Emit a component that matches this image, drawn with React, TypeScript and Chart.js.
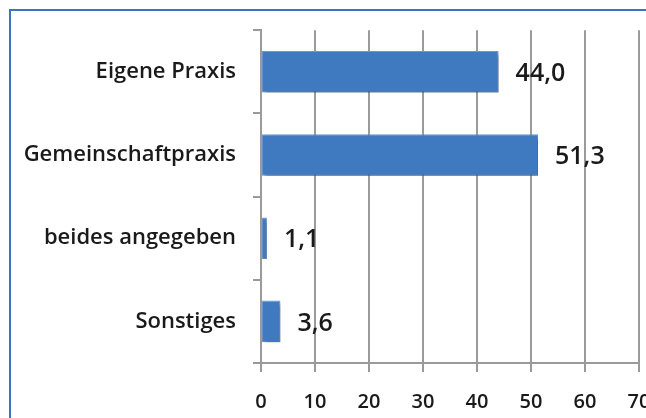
import React, { useEffect, useRef } from 'react';
import { Chart, registerables } from 'chart.js';

Chart.register(...registerables);

const categories = ['Eigene Praxis', 'Gemeinschaftpraxis', 'beides angegeben', 'Sonstiges'];
const values = [44.0, 51.3, 1.1, 3.6];
const xMin = 0;
const xMax = 70;
const xStep = 10;

const FONT = '"Open Sans", Lato, sans-serif';

const shadowPlugin = {
  id: 'barShadow',
  beforeDatasetDraw(chart: any) {
    const ctx = chart.ctx;
    ctx.save();
    ctx.shadowColor = 'rgba(0,0,0,0.4)';
    ctx.shadowOffsetX = 2;
    ctx.shadowOffsetY = 3;
    ctx.shadowBlur = 4;
  },
  afterDatasetDraw(chart: any) {
    chart.ctx.restore();
  },
};

const valueLabelPlugin = {
  id: 'valueLabels',
  afterDatasetsDraw(chart: any) {
    const ctx = chart.ctx;
    const meta = chart.getDatasetMeta(0);
    ctx.save();
    ctx.font = `600 25px ${FONT}`;
    ctx.fillStyle = '#1a1a1a';
    ctx.textBaseline = 'middle';
    ctx.textAlign = 'left';
    meta.data.forEach((bar: any, i: number) => {
      const v = values[i];
      ctx.fillText(v.toFixed(1).replace('.', ','), bar.x + 17, bar.y + 2);
    });
    ctx.restore();
  },
};

export default function App() {
  const ref = useRef<HTMLCanvasElement>(null);

  useEffect(() => {
    if (!ref.current) return;
    const chart = new Chart(ref.current, {
      type: 'bar',
      data: {
        labels: categories,
        datasets: [
          {
            data: values,
            backgroundColor: '#3F7AC0',
            borderColor: '#6E9AD5',
            borderWidth: 1,
            borderSkipped: false,
            barPercentage: 0.5,
            categoryPercentage: 1,
          },
        ],
      },
      options: {
        indexAxis: 'y',
        responsive: false,
        animation: false,
        events: [],
        layout: { padding: { top: 28, right: 81, bottom: 0, left: 0 } },
        plugins: {
          legend: { display: false },
          tooltip: { enabled: false },
        },
        scales: {
          x: {
            type: 'linear',
            min: xMin,
            max: xMax,
            ticks: {
              stepSize: xStep,
              font: { family: FONT, size: 20, weight: '600' },
              color: '#1a1a1a',
              padding: 18,
            },
            grid: { color: '#9a9a9a', lineWidth: 2, tickLength: 9, drawTicks: true },
            border: { color: '#9a9a9a', width: 2 },
            afterFit: (s: any) => {
              s.height = 55;
            },
          },
          y: {
            type: 'category',
            grid: { offset: true, drawOnChartArea: false, tickLength: 8, color: '#9a9a9a', lineWidth: 2 },
            border: { display: true, color: '#9a9a9a', width: 2 },
            ticks: {
              font: { family: FONT, size: 22, weight: '600' },
              color: '#1a1a1a',
              padding: 17,
            },
            afterFit: (s: any) => {
              s.width = 261;
            },
          },
        },
      },
      plugins: [shadowPlugin, valueLabelPlugin],
    });
    return () => chart.destroy();
  }, []);

  return (
    <div
      style={{
        position: 'fixed',
        left: 0,
        top: 0,
        width: 646,
        height: 418,
        overflow: 'hidden',
        background: '#fff',
      }}
    >
      <div
        style={{
          position: 'absolute',
          left: 9,
          top: 9,
          width: 700,
          height: 500,
          borderLeft: '2px solid #3A76BE',
          borderTop: '2px solid #3A76BE',
        }}
      />
      <canvas
        ref={ref}
        width={720}
        height={418}
        style={{ position: 'absolute', left: 0, top: 0, width: 720, height: 418 }}
      />
    </div>
  );
}
